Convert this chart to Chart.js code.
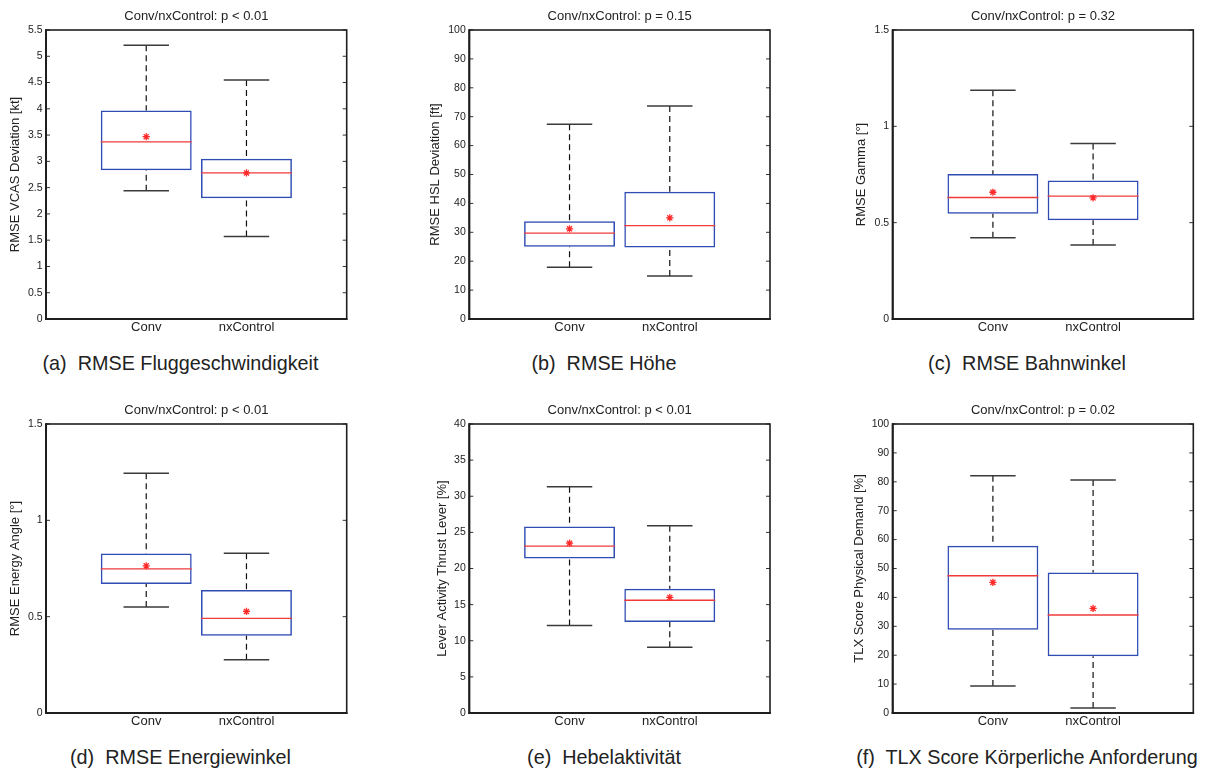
<!DOCTYPE html>
<html>
<head>
<meta charset="utf-8">
<script src="https://cdn.jsdelivr.net/npm/chart.js@4/dist/chart.umd.min.js"></script>
<style>
  html, body { margin: 0; padding: 0; background: #fff; }
  body { width: 1207px; height: 772px; position: relative; overflow: hidden;
         font-family: "Liberation Sans", Arial, Helvetica, sans-serif; }
  canvas { position: absolute; }
  .cap { position: absolute; transform: translateX(-50%); font-size: 19.8px; line-height: 24px;
         color: #222; white-space: pre; }
</style>
</head>
<body>
<canvas id="ca" width="400" height="340" style="left:0px;top:0px"></canvas>
<canvas id="cb" width="400" height="340" style="left:400px;top:0px"></canvas>
<canvas id="cc" width="407" height="340" style="left:800px;top:0px"></canvas>
<canvas id="cd" width="400" height="340" style="left:0px;top:394px"></canvas>
<canvas id="ce" width="400" height="340" style="left:400px;top:394px"></canvas>
<canvas id="cf" width="407" height="340" style="left:800px;top:394px"></canvas>

<div class="cap" id="capa" style="left:180.5px;top:351px"></div>
<div class="cap" id="capb" style="left:604px;top:351px"></div>
<div class="cap" id="capc" style="left:1027px;top:351px"></div>
<div class="cap" id="capd" style="left:180.5px;top:745px"></div>
<div class="cap" id="cape" style="left:604px;top:745px"></div>
<div class="cap" id="capf" style="left:1027px;top:745px"></div>

<script>
// ---------------- DATA ----------------
const categories = ['Conv', 'nxControl'];

// (a) RMSE Fluggeschwindigkeit
const aTitle = 'Conv/nxControl: p < 0.01';
const aYLabel = 'RMSE VCAS Deviation [kt]';
const aCaption = '(a)  RMSE Fluggeschwindigkeit';
const aYMax = 5.5, aYStep = 0.5;
const aLower  = [2.44, 1.57];
const aQ1     = [2.83, 2.30];
const aMedian = [3.37, 2.78];
const aQ3     = [3.97, 3.05];
const aUpper  = [5.21, 4.55];
const aMean   = [3.47, 2.78];

// (b) RMSE Höhe
const bTitle = 'Conv/nxControl: p = 0.15';
const bYLabel = 'RMSE HSL Deviation [ft]';
const bCaption = '(b)  RMSE Höhe';
const bYMax = 100, bYStep = 10;
const bLower  = [17.9, 14.9];
const bQ1     = [25.0, 24.7];
const bMedian = [29.7, 32.3];
const bQ3     = [33.8, 44.0];
const bUpper  = [67.4, 73.7];
const bMean   = [31.2, 35.0];

// (c) RMSE Bahnwinkel
const cTitle = 'Conv/nxControl: p = 0.32';
const cYLabel = 'RMSE Gamma [°]';
const cCaption = '(c)  RMSE Bahnwinkel';
const cYMax = 1.5, cYStep = 0.5;
const cLower  = [0.422, 0.384];
const cQ1     = [0.546, 0.513];
const cMedian = [0.631, 0.638];
const cQ3     = [0.753, 0.719];
const cUpper  = [1.187, 0.911];
const cMean   = [0.658, 0.629];

// (d) RMSE Energiewinkel
const dTitle = 'Conv/nxControl: p < 0.01';
const dYLabel = 'RMSE Energy Angle [°]';
const dCaption = '(d)  RMSE Energiewinkel';
const dYMax = 1.5, dYStep = 0.5;
const dLower  = [0.550, 0.276];
const dQ1     = [0.669, 0.401];
const dMedian = [0.748, 0.491];
const dQ3     = [0.828, 0.638];
const dUpper  = [1.244, 0.829];
const dMean   = [0.764, 0.527];

// (e) Hebelaktivität
const eTitle = 'Conv/nxControl: p < 0.01';
const eYLabel = 'Lever Activity Thrust Lever [%]';
const eCaption = '(e)  Hebelaktivität';
const eYMax = 40, eYStep = 5;
const eLower  = [12.1, 9.1];
const eQ1     = [21.4, 12.6];
const eMedian = [23.1, 15.6];
const eQ3     = [25.8, 17.2];
const eUpper  = [31.3, 25.9];
const eMean   = [23.5, 16.0];

// (f) TLX Score Körperliche Anforderung
const fTitle = 'Conv/nxControl: p = 0.02';
const fYLabel = 'TLX Score Physical Demand [%]';
const fCaption = '(f)  TLX Score Körperliche Anforderung';
const fYMax = 100, fYStep = 10;
const fLower  = [9.3, 1.7];
const fQ1     = [28.8, 19.6];
const fMedian = [47.5, 33.9];
const fQ3     = [57.9, 48.6];
const fUpper  = [82.1, 80.6];
const fMean   = [45.2, 36.2];

// ---------------- RENDERING ----------------
Chart.defaults.font.family = '"Liberation Sans", Arial, Helvetica, sans-serif';
Chart.defaults.color = '#222';

const boxExtras = {
  id: 'boxExtras',
  afterDatasetDraw(chart, args, opts) {
    if (args.index !== 0) return;
    const ctx = chart.ctx, ys = chart.scales.y;
    const meta = chart.getDatasetMeta(0);
    const line = (x1, y1, x2, y2) => { ctx.beginPath(); ctx.moveTo(x1, y1); ctx.lineTo(x2, y2); ctx.stroke(); };
    ctx.save();
    opts.median.forEach((m, i) => {
      const bar = meta.data[i + 1];
      const { x, width } = bar.getProps(['x', 'width'], true);
      const half = width / 2, cap = width / 4;
      const yQ1 = ys.getPixelForValue(opts.q1[i]);
      const yQ3 = ys.getPixelForValue(opts.q3[i]);
      const yLo = ys.getPixelForValue(opts.lower[i]);
      const yUp = ys.getPixelForValue(opts.upper[i]);
      // whiskers (dashed)
      ctx.setLineDash([6, 4]);
      ctx.strokeStyle = '#111';
      ctx.lineWidth = 1.2;
      line(x, yUp, x, yQ3);
      line(x, yLo, x, yQ1);
      ctx.setLineDash([]);
      // caps
      ctx.strokeStyle = '#3a3a3a';
      ctx.lineWidth = 1.5;
      line(x - cap, yUp, x + cap, yUp);
      line(x - cap, yLo, x + cap, yLo);
      // median
      const yM = ys.getPixelForValue(m);
      ctx.strokeStyle = '#f03a3a';
      ctx.lineWidth = 1.4;
      line(x - half, yM, x + half, yM);
    });
    ctx.restore();
  },
  afterDraw(chart) {
    const ctx = chart.ctx, a = chart.chartArea, ys = chart.scales.y;
    const line = (x1, y1, x2, y2) => { ctx.beginPath(); ctx.moveTo(x1, y1); ctx.lineTo(x2, y2); ctx.stroke(); };
    ctx.save();
    ctx.strokeStyle = '#333';
    ctx.lineWidth = 1;
    ys.ticks.forEach(t => {
      const py = ys.getPixelForValue(t.value);
      line(a.left, py, a.left + 4, py);
      line(a.right - 4, py, a.right, py);
    });
    ctx.strokeStyle = '#1e1e1e';
    ctx.lineWidth = 1.6;
    ctx.strokeRect(a.left, a.top, a.right - a.left, a.bottom - a.top);
    ctx.lineWidth = 2;
    line(a.left, a.top - 0.8, a.left, a.bottom + 1);
    line(a.left - 1, a.bottom, a.right + 0.8, a.bottom);
    ctx.restore();
  }
};

function makePanel(id, p) {
  const labels = ['', ...categories, ''];
  const padV = v => [null, ...v, null];
  const boxes = padV(p.q1.map((q, i) => [q, p.q3[i]]));
  document.getElementById('cap' + id).textContent = p.caption;
  return new Chart(document.getElementById('c' + id), {
    type: 'bar',
    data: {
      labels,
      datasets: [
        {
          type: 'bar',
          data: boxes,
          backgroundColor: 'rgba(0,0,0,0)',
          borderColor: '#2f4cb5',
          borderWidth: 1.5,
          borderSkipped: false,
          barPercentage: 0.907,
          categoryPercentage: 1,
          order: 2
        },
        {
          type: 'line',
          data: padV(p.mean),
          showLine: false,
          pointStyle: 'star',
          pointRadius: 3.6,
          pointBorderWidth: 1.3,
          borderColor: '#ff2a2a',
          backgroundColor: '#ff2a2a',
          order: 0
        }
      ]
    },
    options: {
      responsive: false,
      animation: false,
      events: [],
      layout: { padding: { left: p.padL, right: p.padR, top: 0, bottom: 0 } },
      plugins: {
        legend: { display: false },
        tooltip: { enabled: false },
        title: {
          display: true,
          text: p.title,
          fullSize: false,
          color: '#222',
          font: { size: 13, weight: 'normal' },
          padding: { top: 8.2, bottom: 6.2 }
        },
        boxExtras: { lower: p.lower, q1: p.q1, median: p.median, q3: p.q3, upper: p.upper }
      },
      scales: {
        x: {
          type: 'category',
          offset: false,
          grid: { display: false, drawTicks: false },
          border: { display: false },
          ticks: { autoSkip: false, maxRotation: 0, minRotation: 0, padding: 1, color: '#222', font: { size: 13 } },
          afterFit: s => { s.height = 21; }
        },
        y: {
          min: 0,
          max: p.yMax,
          grid: { display: false, drawTicks: false },
          border: { display: false },
          ticks: { stepSize: p.yStep, padding: 3.5, color: '#222', font: { size: 10.5 },
                   callback: v => String(Math.round(v * 1000) / 1000) },
          title: { display: true, text: p.yLabel, color: '#222', font: { size: 13 }, padding: 0 },
          afterFit: s => { s.width = p.yW; }
        }
      }
    },
    plugins: [boxExtras]
  });
}

makePanel('a', { title: aTitle, yLabel: aYLabel, caption: aCaption, yMax: aYMax, yStep: aYStep,
  lower: aLower, q1: aQ1, median: aMedian, q3: aQ3, upper: aUpper, mean: aMean, padL: 7.2, yW: 38.8, padR: 53.3 });
makePanel('b', { title: bTitle, yLabel: bYLabel, caption: bCaption, yMax: bYMax, yStep: bYStep,
  lower: bLower, q1: bQ1, median: bMedian, q3: bQ3, upper: bUpper, mean: bMean, padL: 27.5, yW: 41.8, padR: 30 });
makePanel('c', { title: cTitle, yLabel: cYLabel, caption: cCaption, yMax: cYMax, yStep: cYStep,
  lower: cLower, q1: cQ1, median: cMedian, q3: cQ3, upper: cUpper, mean: cMean, padL: 53.9, yW: 38.8, padR: 13.7 });
makePanel('d', { title: dTitle, yLabel: dYLabel, caption: dCaption, yMax: dYMax, yStep: dYStep,
  lower: dLower, q1: dQ1, median: dMedian, q3: dQ3, upper: dUpper, mean: dMean, padL: 7.5, yW: 38.5, padR: 53.3 });
makePanel('e', { title: eTitle, yLabel: eYLabel, caption: eCaption, yMax: eYMax, yStep: eYStep,
  lower: eLower, q1: eQ1, median: eMedian, q3: eQ3, upper: eUpper, mean: eMean, padL: 34.2, yW: 35.1, padR: 30 });
makePanel('f', { title: fTitle, yLabel: fYLabel, caption: fCaption, yMax: fYMax, yStep: fYStep,
  lower: fLower, q1: fQ1, median: fMedian, q3: fQ3, upper: fUpper, mean: fMean, padL: 51.5, yW: 41.2, padR: 13.7 });
</script>
</body>
</html>
